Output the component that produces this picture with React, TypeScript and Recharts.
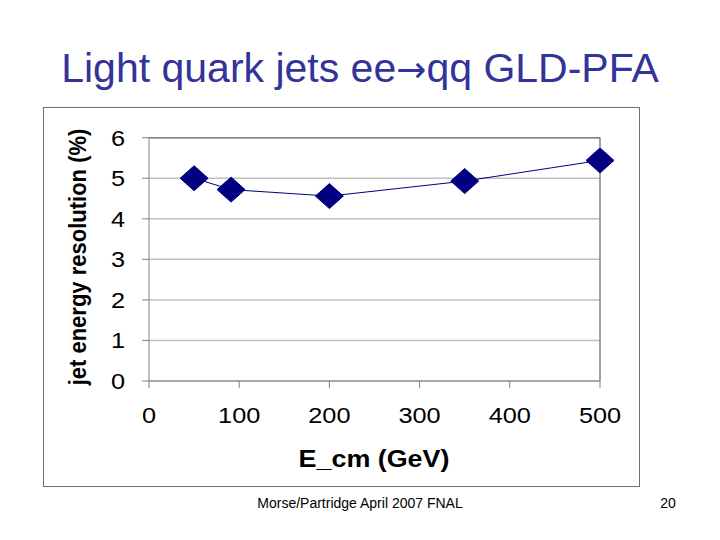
import { LineChart, Line, XAxis, YAxis, CartesianGrid, ReferenceLine } from "recharts"

// E_cm (GeV) vs jet energy resolution (%)
const energies = [50, 91, 200, 350, 500]
const resolution = [5.0, 4.72, 4.56, 4.93, 5.44]
const xTicks = [0, 100, 200, 300, 400, 500]
const yTicks = [0, 1, 2, 3, 4, 5, 6]

const data = energies.map((e, i) => ({ e, res: resolution[i] }))

const NAVY = "#000080"
const FONT = "'Liberation Sans', Arial, sans-serif"

// diamond marker like the Excel default
function Diamond(props: any) {
  const { cx, cy } = props
  if (cx == null || cy == null) return null
  const w = 14
  const h = 12.5
  return (
    <polygon
      points={`${cx},${cy - h} ${cx + w},${cy} ${cx},${cy + h} ${cx - w},${cy}`}
      fill={NAVY}
      stroke={NAVY}
    />
  )
}

// the original picture is a bit stretched sideways, so widen the tick text
function WideTick(props: any) {
  const { x, y, payload, textAnchor, dy } = props
  return (
    <g transform={`translate(${x},${y}) scale(1.15,1)`}>
      <text x={0} y={0} dy={dy} textAnchor={textAnchor} fill="#000" fontSize={22} fontFamily={FONT}>
        {payload.value}
      </text>
    </g>
  )
}

function XTick(props: any) {
  return <WideTick {...props} textAnchor="middle" dy="0.71em" />
}

function YTick(props: any) {
  return <WideTick {...props} textAnchor="end" dy="0.355em" />
}

export default function App() {
  return (
    <div
      style={{
        position: "absolute",
        left: 0,
        top: 0,
        width: 720,
        height: 540,
        background: "#fff",
        fontFamily: FONT,
        overflow: "hidden",
      }}
    >
      <div
        style={{
          position: "absolute",
          left: 0,
          width: 720,
          top: 44,
          textAlign: "center",
          fontSize: 41,
          color: "#333399",
          lineHeight: "48px",
        }}
      >
        Light quark jets ee<span style={{ fontFamily: "'DejaVu Sans'", fontSize: 36 }}>→</span>qq GLD-PFA
      </div>

      {/* chart frame */}
      <div
        style={{
          position: "absolute",
          left: 43,
          top: 107,
          width: 595,
          height: 378,
          border: "1.5px solid #707070",
        }}
      />

      <div style={{ position: "absolute", left: 0, top: 0 }}>
        <LineChart
          width={720}
          height={540}
          data={data}
          margin={{ top: 137.7, right: 120, bottom: 129, left: 109 }}
        >
          <CartesianGrid vertical={false} stroke="#c0c0c0" strokeWidth={1.5} />
          <XAxis
            dataKey="e"
            type="number"
            domain={[0, 500]}
            ticks={xTicks}
            height={30}
            stroke="#808080"
            tickSize={7}
            tickMargin={19}
            tick={<XTick />}
            interval={0}
          />
          <YAxis
            type="number"
            domain={[0, 6]}
            ticks={yTicks}
            width={40}
            stroke="#808080"
            tickSize={7}
            tickMargin={17}
            tick={<YTick />}
            interval={0}
          />
          <ReferenceLine y={6} stroke="#808080" strokeWidth={1.5} />
          <ReferenceLine x={500} stroke="#808080" strokeWidth={1.5} />
          <Line
            type="linear"
            dataKey="res"
            stroke={NAVY}
            strokeWidth={1}
            dot={<Diamond />}
            activeDot={false}
            isAnimationActive={false}
          />
        </LineChart>
      </div>

      <div
        style={{
          position: "absolute",
          left: 78 - 150,
          top: 257 - 14,
          width: 300,
          height: 28,
          lineHeight: "28px",
          textAlign: "center",
          fontSize: 22,
          fontWeight: "bold",
          transform: "rotate(-90deg) scaleY(1.12)",
          transformOrigin: "150px 14px",
        }}
      >
        jet energy resolution (%)
      </div>

      <div
        style={{
          position: "absolute",
          left: 374 - 150,
          top: 459 - 15,
          width: 300,
          height: 30,
          lineHeight: "30px",
          textAlign: "center",
          fontSize: 24,
          fontWeight: "bold",
          transform: "scaleX(1.12)",
        }}
      >
        E_cm (GeV)
      </div>

      <div
        style={{
          position: "absolute",
          left: 210,
          width: 300,
          top: 494,
          textAlign: "center",
          fontSize: 14,
          lineHeight: "18px",
        }}
      >
        Morse/Partridge April 2007 FNAL
      </div>
      <div
        style={{
          position: "absolute",
          left: 640,
          width: 56,
          top: 494,
          textAlign: "center",
          fontSize: 14,
          lineHeight: "18px",
        }}
      >
        20
      </div>
    </div>
  )
}
